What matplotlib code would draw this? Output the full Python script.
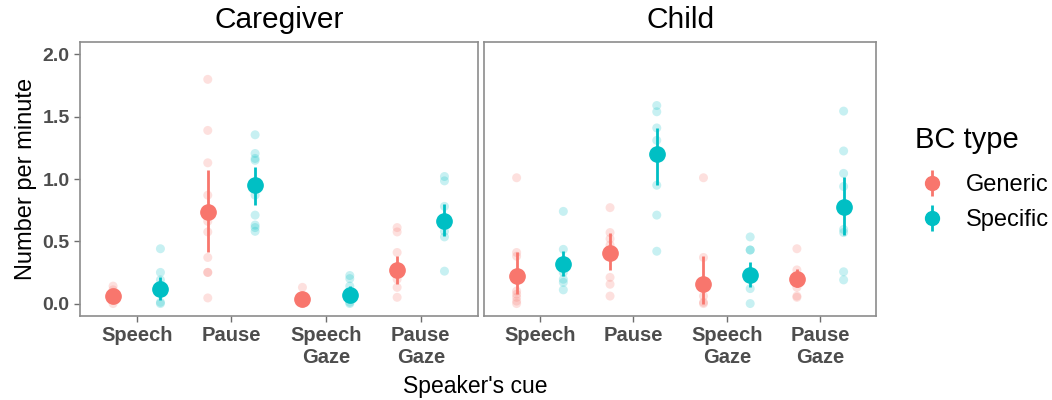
import numpy as np
import matplotlib.pyplot as plt
from matplotlib.lines import Line2D

plt.rcParams['font.family'] = ['Liberation Sans', 'DejaVu Sans']

cues = ["Speech", "Pause", "Speech\nGaze", "Pause\nGaze"]
panels = ["Caregiver", "Child"]
bc_types = ["Generic", "Specific"]
colors = {"Generic": "#F8766D", "Specific": "#00BFC4"}

# means and error bar limits (lower, upper) per panel, type, cue
means = {
    ("Caregiver", "Generic"): [0.06, 0.735, 0.035, 0.27],
    ("Caregiver", "Specific"): [0.12, 0.955, 0.07, 0.66],
    ("Child", "Generic"): [0.22, 0.405, 0.16, 0.20],
    ("Child", "Specific"): [0.315, 1.20, 0.23, 0.775],
}
err_lo = {
    ("Caregiver", "Generic"): [0.02, 0.41, 0.01, 0.155],
    ("Caregiver", "Specific"): [0.03, 0.79, 0.01, 0.54],
    ("Child", "Generic"): [0.08, 0.27, 0.0, 0.13],
    ("Child", "Specific"): [0.22, 0.95, 0.13, 0.55],
}
err_hi = {
    ("Caregiver", "Generic"): [0.10, 1.07, 0.07, 0.38],
    ("Caregiver", "Specific"): [0.21, 1.10, 0.14, 0.80],
    ("Child", "Generic"): [0.41, 0.57, 0.38, 0.28],
    ("Child", "Specific"): [0.42, 1.41, 0.33, 1.02],
}
# individual observations
raw = {
    ("Caregiver", "Generic"): [
        [0.14, 0.11, 0.09, 0.06, 0.03, 0.0],
        [1.80, 1.39, 1.13, 0.87, 0.66, 0.575, 0.37, 0.25, 0.25, 0.045],
        [0.13, 0.06, 0.02, 0.0],
        [0.61, 0.575, 0.41, 0.25, 0.195, 0.13, 0.05],
    ],
    ("Caregiver", "Specific"): [
        [0.44, 0.25, 0.19, 0.15, 0.09, 0.01, 0.0],
        [1.355, 1.205, 1.165, 1.15, 0.87, 0.71, 0.63, 0.61, 0.58],
        [0.225, 0.20, 0.14, 0.06, 0.01, 0.0],
        [1.02, 0.985, 0.78, 0.58, 0.535, 0.26],
    ],
    ("Child", "Generic"): [
        [1.01, 0.41, 0.38, 0.10, 0.075, 0.05, 0.02, 0.0],
        [0.77, 0.57, 0.52, 0.47, 0.21, 0.155, 0.06],
        [1.01, 0.37, 0.06, 0.01, 0.0],
        [0.44, 0.27, 0.13, 0.06, 0.05],
    ],
    ("Child", "Specific"): [
        [0.74, 0.435, 0.25, 0.195, 0.17, 0.11],
        [1.59, 1.54, 1.41, 1.31, 0.95, 0.71, 0.42],
        [0.535, 0.43, 0.43, 0.12, 0.0],
        [1.545, 1.225, 1.045, 0.94, 0.595, 0.57, 0.255, 0.19],
    ],
}

fig = plt.figure(figsize=(10.52, 4.0), dpi=100)
axes = [fig.add_axes([0.076, 0.21, 0.378, 0.685]),
        fig.add_axes([0.460, 0.21, 0.373, 0.685])]

grey = "#4D4D4D"
x = np.arange(1, len(cues) + 1)
for ax, panel in zip(axes, panels):
    for k, bt in enumerate(bc_types):
        off = -0.25 if k == 0 else 0.25
        c = colors[bt]
        for i, vals in enumerate(raw[(panel, bt)]):
            ax.scatter(np.full(len(vals), x[i] + off), vals, s=42, color=c,
                       alpha=0.22, edgecolors="none", zorder=2)
        m = np.array(means[(panel, bt)])
        lo = m - np.array(err_lo[(panel, bt)])
        hi = np.array(err_hi[(panel, bt)]) - m
        ax.errorbar(x + off, m, yerr=[lo, hi], fmt="o", color=c, ms=11,
                    elinewidth=2, capsize=0, zorder=3)
    ax.set_xlim(0.4, 4.6)
    ax.set_ylim(-0.1, 2.1)
    ax.set_xticks(x)
    ax.set_xticklabels(cues, fontweight="bold", color=grey, fontsize=14.5)
    ax.set_yticks([0, 0.5, 1.0, 1.5, 2.0])
    ax.set_title(panel, fontsize=21.5, pad=10)
    for s in ax.spines.values():
        s.set_color("#8C8C8C")
        s.set_linewidth(1.2)
    ax.tick_params(color="#6E6E6E", length=4, width=1)
    ax.set_facecolor("white")

axes[0].set_yticklabels(["0.0", "0.5", "1.0", "1.5", "2.0"],
                        fontweight="bold", color=grey, fontsize=14)
axes[1].tick_params(axis="y", left=False, labelleft=False)
axes[0].set_ylabel("Number per minute", fontsize=17, labelpad=4)
fig.text(0.452, 0.018, "Speaker's cue", ha="center", va="baseline", fontsize=16.5)

handles = [(Line2D([0], [0], color=colors[bt], marker="|", ms=19, mew=2, lw=0),
            Line2D([0], [0], color=colors[bt], marker="o", ms=10, lw=0))
           for bt in bc_types]
leg = fig.legend(handles, bc_types, title="BC type", loc="upper left",
                 bbox_to_anchor=(0.85, 0.7375), frameon=False, fontsize=17,
                 title_fontsize=21, handletextpad=0.68, labelspacing=0.55,
                 handlelength=1.44)
leg._legend_box.align = "left"
leg._legend_box.sep = 14.5

fig.savefig("out.png", dpi=100)
